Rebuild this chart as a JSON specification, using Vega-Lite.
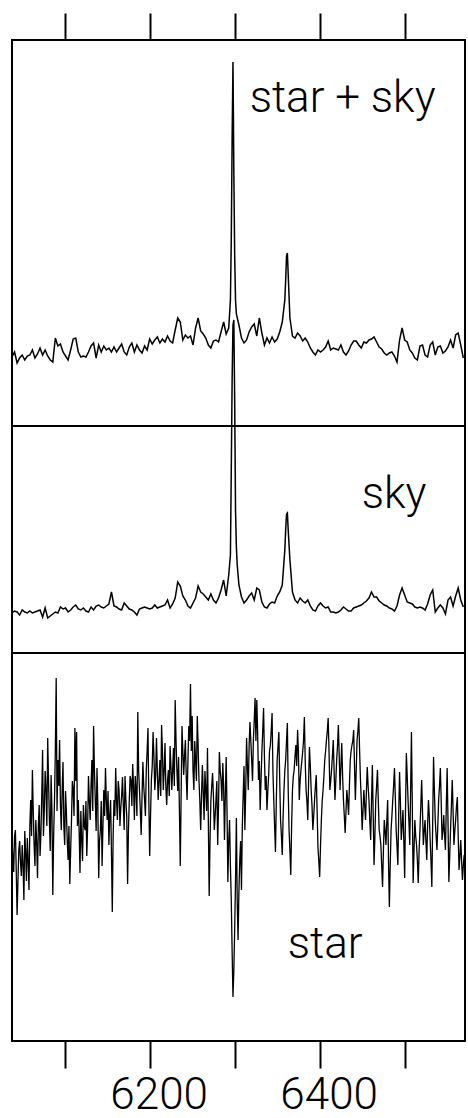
{
"$schema": "https://vega.github.io/schema/vega-lite/v6.json",
"padding": {"left": 8, "top": 11, "right": 3, "bottom": 0},
"autosize": {"type": "pad"},
"spacing": 0,
"bounds": "flush",
"background": "white",
"config": {
  "view": {"stroke": "black", "strokeWidth": 2},
  "axis": {"domain": false, "grid": false, "tickColor": "black", "tickWidth": 2, "tickSize": 27, "title": null, "labelColor": "black", "labelFont": "Roboto", "labelFontWeight": 300, "labelFontSize": 44, "labelPadding": 5, "labelFlush": false, "labelOverlap": false}
},
"resolve": {"scale": {"x": "independent", "y": "independent"}, "axis": {"x": "independent"}},
"datasets": {
"starsky": [
{"w":6038,"v":69},{"w":6041,"v":74},{"w":6044,"v":63},{"w":6047,"v":68},{"w":6050,"v":71},{"w":6053,"v":66},{"w":6056,"v":70},{"w":6059,"v":71},{"w":6062,"v":76},{"w":6065,"v":68},{"w":6068,"v":72},{"w":6071,"v":78},{"w":6074,"v":71},{"w":6077,"v":76},{"w":6080,"v":70},{"w":6083,"v":66},{"w":6086,"v":64},{"w":6089,"v":88},{"w":6092,"v":80},{"w":6095,"v":82},{"w":6098,"v":74},{"w":6101,"v":70},{"w":6104,"v":66},{"w":6107,"v":76},{"w":6110,"v":87},{"w":6113,"v":88},{"w":6116,"v":74},{"w":6119,"v":69},{"w":6122,"v":70},{"w":6125,"v":69},{"w":6128,"v":74},{"w":6131,"v":80},{"w":6134,"v":83},{"w":6137,"v":68},{"w":6140,"v":81},{"w":6143,"v":74},{"w":6146,"v":80},{"w":6149,"v":76},{"w":6152,"v":78},{"w":6155,"v":74},{"w":6158,"v":79},{"w":6161,"v":74},{"w":6164,"v":78},{"w":6167,"v":82},{"w":6170,"v":74},{"w":6173,"v":71},{"w":6176,"v":79},{"w":6179,"v":83},{"w":6182,"v":74},{"w":6185,"v":81},{"w":6188,"v":76},{"w":6191,"v":73},{"w":6194,"v":80},{"w":6197,"v":76},{"w":6200,"v":87},{"w":6203,"v":82},{"w":6206,"v":86},{"w":6209,"v":89},{"w":6212,"v":83},{"w":6215,"v":87},{"w":6218,"v":84},{"w":6221,"v":90},{"w":6224,"v":85},{"w":6227,"v":83},{"w":6230,"v":96},{"w":6233,"v":108},{"w":6236,"v":104},{"w":6239,"v":86},{"w":6242,"v":91},{"w":6245,"v":88},{"w":6248,"v":90},{"w":6251,"v":81},{"w":6254,"v":98},{"w":6257,"v":108},{"w":6260,"v":95},{"w":6263,"v":92},{"w":6266,"v":88},{"w":6269,"v":81},{"w":6272,"v":78},{"w":6275,"v":85},{"w":6278,"v":86},{"w":6281,"v":84},{"w":6284,"v":94},{"w":6287,"v":104},{"w":6290,"v":92},{"w":6293,"v":98},{"w":6295,"v":126},{"w":6296,"v":186},{"w":6297,"v":286},{"w":6298,"v":364},{"w":6299,"v":256},{"w":6300,"v":171},{"w":6301,"v":126},{"w":6302,"v":112},{"w":6305,"v":101},{"w":6308,"v":88},{"w":6311,"v":83},{"w":6314,"v":86},{"w":6317,"v":94},{"w":6320,"v":99},{"w":6323,"v":102},{"w":6326,"v":90},{"w":6329,"v":108},{"w":6332,"v":93},{"w":6335,"v":81},{"w":6338,"v":88},{"w":6341,"v":83},{"w":6344,"v":89},{"w":6347,"v":84},{"w":6350,"v":87},{"w":6353,"v":94},{"w":6356,"v":104},{"w":6359,"v":126},{"w":6360,"v":146},{"w":6361,"v":170},{"w":6362,"v":173},{"w":6363,"v":151},{"w":6365,"v":108},{"w":6368,"v":90},{"w":6371,"v":88},{"w":6374,"v":93},{"w":6377,"v":90},{"w":6380,"v":85},{"w":6383,"v":88},{"w":6386,"v":84},{"w":6389,"v":78},{"w":6392,"v":74},{"w":6395,"v":71},{"w":6398,"v":76},{"w":6401,"v":74},{"w":6404,"v":76},{"w":6407,"v":79},{"w":6410,"v":85},{"w":6413,"v":76},{"w":6416,"v":78},{"w":6419,"v":77},{"w":6422,"v":76},{"w":6425,"v":81},{"w":6428,"v":74},{"w":6431,"v":71},{"w":6434,"v":75},{"w":6437,"v":81},{"w":6440,"v":85},{"w":6443,"v":85},{"w":6446,"v":81},{"w":6449,"v":78},{"w":6452,"v":84},{"w":6455,"v":83},{"w":6458,"v":86},{"w":6461,"v":87},{"w":6464,"v":89},{"w":6467,"v":84},{"w":6470,"v":79},{"w":6473,"v":77},{"w":6476,"v":73},{"w":6479,"v":71},{"w":6482,"v":73},{"w":6485,"v":74},{"w":6488,"v":70},{"w":6491,"v":64},{"w":6494,"v":86},{"w":6497,"v":98},{"w":6500,"v":86},{"w":6503,"v":84},{"w":6506,"v":76},{"w":6509,"v":73},{"w":6512,"v":68},{"w":6515,"v":66},{"w":6518,"v":80},{"w":6521,"v":81},{"w":6524,"v":71},{"w":6527,"v":69},{"w":6530,"v":81},{"w":6533,"v":84},{"w":6536,"v":71},{"w":6539,"v":79},{"w":6542,"v":80},{"w":6545,"v":73},{"w":6548,"v":75},{"w":6551,"v":79},{"w":6554,"v":86},{"w":6557,"v":78},{"w":6560,"v":91},{"w":6563,"v":93},{"w":6566,"v":81},{"w":6569,"v":68}
],
"sky": [
{"w":6038,"v":40},{"w":6041,"v":42},{"w":6044,"v":41},{"w":6047,"v":38},{"w":6050,"v":43},{"w":6053,"v":41},{"w":6056,"v":40},{"w":6059,"v":42},{"w":6062,"v":40},{"w":6065,"v":41},{"w":6068,"v":42},{"w":6071,"v":43},{"w":6074,"v":36},{"w":6077,"v":45},{"w":6080,"v":35},{"w":6083,"v":37},{"w":6086,"v":39},{"w":6089,"v":41},{"w":6092,"v":40},{"w":6095,"v":46},{"w":6098,"v":44},{"w":6101,"v":45},{"w":6104,"v":41},{"w":6107,"v":43},{"w":6110,"v":46},{"w":6113,"v":48},{"w":6116,"v":44},{"w":6119,"v":43},{"w":6122,"v":45},{"w":6125,"v":42},{"w":6128,"v":41},{"w":6131,"v":46},{"w":6134,"v":43},{"w":6137,"v":47},{"w":6140,"v":48},{"w":6143,"v":46},{"w":6146,"v":45},{"w":6149,"v":47},{"w":6152,"v":49},{"w":6155,"v":61},{"w":6158,"v":47},{"w":6161,"v":46},{"w":6164,"v":44},{"w":6167,"v":43},{"w":6170,"v":50},{"w":6173,"v":47},{"w":6176,"v":44},{"w":6179,"v":43},{"w":6182,"v":41},{"w":6185,"v":38},{"w":6188,"v":44},{"w":6191,"v":45},{"w":6194,"v":46},{"w":6197,"v":45},{"w":6200,"v":44},{"w":6203,"v":45},{"w":6206,"v":48},{"w":6209,"v":45},{"w":6212,"v":46},{"w":6215,"v":47},{"w":6218,"v":48},{"w":6221,"v":53},{"w":6224,"v":45},{"w":6227,"v":49},{"w":6230,"v":55},{"w":6233,"v":71},{"w":6236,"v":67},{"w":6239,"v":57},{"w":6242,"v":53},{"w":6245,"v":47},{"w":6248,"v":45},{"w":6251,"v":50},{"w":6254,"v":55},{"w":6257,"v":67},{"w":6260,"v":61},{"w":6263,"v":59},{"w":6266,"v":56},{"w":6269,"v":53},{"w":6272,"v":59},{"w":6275,"v":53},{"w":6278,"v":50},{"w":6281,"v":55},{"w":6284,"v":63},{"w":6287,"v":73},{"w":6290,"v":57},{"w":6293,"v":78},{"w":6295,"v":98},{"w":6296,"v":183},{"w":6297,"v":273},{"w":6298,"v":328},{"w":6299,"v":333},{"w":6300,"v":253},{"w":6301,"v":143},{"w":6302,"v":106},{"w":6303,"v":88},{"w":6305,"v":68},{"w":6308,"v":56},{"w":6311,"v":50},{"w":6314,"v":53},{"w":6317,"v":57},{"w":6320,"v":60},{"w":6323,"v":53},{"w":6326,"v":65},{"w":6329,"v":63},{"w":6332,"v":51},{"w":6335,"v":46},{"w":6338,"v":45},{"w":6341,"v":49},{"w":6344,"v":51},{"w":6347,"v":50},{"w":6350,"v":57},{"w":6353,"v":61},{"w":6356,"v":68},{"w":6359,"v":103},{"w":6360,"v":123},{"w":6361,"v":139},{"w":6362,"v":140},{"w":6363,"v":123},{"w":6365,"v":93},{"w":6368,"v":61},{"w":6371,"v":53},{"w":6374,"v":50},{"w":6377,"v":55},{"w":6380,"v":52},{"w":6383,"v":50},{"w":6386,"v":53},{"w":6389,"v":47},{"w":6392,"v":43},{"w":6395,"v":42},{"w":6398,"v":47},{"w":6401,"v":50},{"w":6404,"v":47},{"w":6407,"v":45},{"w":6410,"v":46},{"w":6413,"v":41},{"w":6416,"v":41},{"w":6419,"v":40},{"w":6422,"v":41},{"w":6425,"v":43},{"w":6428,"v":46},{"w":6431,"v":44},{"w":6434,"v":42},{"w":6437,"v":42},{"w":6440,"v":45},{"w":6443,"v":46},{"w":6446,"v":47},{"w":6449,"v":48},{"w":6452,"v":50},{"w":6455,"v":52},{"w":6458,"v":55},{"w":6461,"v":61},{"w":6464,"v":56},{"w":6467,"v":56},{"w":6470,"v":52},{"w":6473,"v":50},{"w":6476,"v":48},{"w":6479,"v":47},{"w":6482,"v":45},{"w":6485,"v":44},{"w":6488,"v":42},{"w":6491,"v":47},{"w":6494,"v":58},{"w":6497,"v":65},{"w":6500,"v":58},{"w":6503,"v":51},{"w":6506,"v":50},{"w":6509,"v":49},{"w":6512,"v":46},{"w":6515,"v":45},{"w":6518,"v":46},{"w":6521,"v":45},{"w":6524,"v":43},{"w":6527,"v":49},{"w":6530,"v":58},{"w":6533,"v":63},{"w":6536,"v":41},{"w":6539,"v":45},{"w":6542,"v":48},{"w":6545,"v":45},{"w":6548,"v":39},{"w":6551,"v":53},{"w":6554,"v":56},{"w":6557,"v":47},{"w":6560,"v":57},{"w":6563,"v":65},{"w":6566,"v":53},{"w":6569,"v":46}
],
"star": [
{"w":6038,"v":201},{"w":6040,"v":169},{"w":6042,"v":211},{"w":6044,"v":126},{"w":6046,"v":191},{"w":6048,"v":179},{"w":6050,"v":196},{"w":6052,"v":141},{"w":6054,"v":189},{"w":6056,"v":203},{"w":6058,"v":151},{"w":6060,"v":241},{"w":6062,"v":271},{"w":6064,"v":196},{"w":6066,"v":221},{"w":6068,"v":163},{"w":6070,"v":236},{"w":6072,"v":206},{"w":6074,"v":291},{"w":6076,"v":231},{"w":6078,"v":251},{"w":6080,"v":303},{"w":6082,"v":221},{"w":6084,"v":266},{"w":6086,"v":146},{"w":6088,"v":241},{"w":6090,"v":363},{"w":6092,"v":281},{"w":6094,"v":301},{"w":6096,"v":211},{"w":6098,"v":279},{"w":6100,"v":196},{"w":6102,"v":229},{"w":6104,"v":181},{"w":6106,"v":157},{"w":6108,"v":221},{"w":6110,"v":251},{"w":6112,"v":313},{"w":6114,"v":309},{"w":6116,"v":241},{"w":6118,"v":168},{"w":6120,"v":201},{"w":6122,"v":236},{"w":6124,"v":211},{"w":6126,"v":185},{"w":6128,"v":265},{"w":6130,"v":221},{"w":6132,"v":281},{"w":6134,"v":315},{"w":6136,"v":241},{"w":6138,"v":273},{"w":6140,"v":163},{"w":6142,"v":211},{"w":6144,"v":175},{"w":6146,"v":251},{"w":6148,"v":273},{"w":6150,"v":221},{"w":6152,"v":196},{"w":6154,"v":241},{"w":6156,"v":129},{"w":6158,"v":241},{"w":6160,"v":273},{"w":6162,"v":221},{"w":6164,"v":251},{"w":6166,"v":233},{"w":6168,"v":264},{"w":6170,"v":211},{"w":6172,"v":241},{"w":6174,"v":157},{"w":6176,"v":241},{"w":6178,"v":261},{"w":6180,"v":277},{"w":6182,"v":221},{"w":6184,"v":251},{"w":6186,"v":329},{"w":6188,"v":251},{"w":6190,"v":206},{"w":6192,"v":279},{"w":6194,"v":241},{"w":6196,"v":271},{"w":6198,"v":313},{"w":6200,"v":185},{"w":6202,"v":261},{"w":6204,"v":309},{"w":6206,"v":251},{"w":6208,"v":303},{"w":6210,"v":241},{"w":6212,"v":281},{"w":6214,"v":316},{"w":6216,"v":251},{"w":6218,"v":298},{"w":6220,"v":236},{"w":6222,"v":271},{"w":6224,"v":295},{"w":6226,"v":251},{"w":6228,"v":293},{"w":6230,"v":341},{"w":6232,"v":271},{"w":6234,"v":284},{"w":6236,"v":175},{"w":6238,"v":315},{"w":6240,"v":266},{"w":6242,"v":301},{"w":6244,"v":241},{"w":6246,"v":315},{"w":6248,"v":357},{"w":6250,"v":325},{"w":6252,"v":251},{"w":6254,"v":281},{"w":6256,"v":325},{"w":6258,"v":261},{"w":6260,"v":211},{"w":6262,"v":276},{"w":6264,"v":221},{"w":6266,"v":251},{"w":6268,"v":293},{"w":6270,"v":145},{"w":6272,"v":241},{"w":6274,"v":268},{"w":6276,"v":211},{"w":6278,"v":241},{"w":6280,"v":196},{"w":6282,"v":289},{"w":6284,"v":261},{"w":6286,"v":278},{"w":6288,"v":201},{"w":6290,"v":284},{"w":6292,"v":159},{"w":6294,"v":221},{"w":6296,"v":141},{"w":6298,"v":44},{"w":6300,"v":111},{"w":6302,"v":223},{"w":6304,"v":101},{"w":6306,"v":181},{"w":6308,"v":151},{"w":6310,"v":246},{"w":6312,"v":211},{"w":6314,"v":303},{"w":6316,"v":251},{"w":6318,"v":319},{"w":6320,"v":281},{"w":6322,"v":301},{"w":6324,"v":343},{"w":6326,"v":341},{"w":6328,"v":261},{"w":6330,"v":231},{"w":6332,"v":289},{"w":6334,"v":333},{"w":6336,"v":251},{"w":6338,"v":231},{"w":6340,"v":266},{"w":6342,"v":296},{"w":6344,"v":328},{"w":6346,"v":241},{"w":6348,"v":189},{"w":6350,"v":281},{"w":6352,"v":309},{"w":6354,"v":221},{"w":6356,"v":186},{"w":6358,"v":251},{"w":6360,"v":281},{"w":6362,"v":318},{"w":6364,"v":211},{"w":6366,"v":166},{"w":6368,"v":251},{"w":6370,"v":271},{"w":6372,"v":296},{"w":6374,"v":311},{"w":6376,"v":241},{"w":6378,"v":271},{"w":6380,"v":289},{"w":6382,"v":324},{"w":6384,"v":251},{"w":6386,"v":221},{"w":6388,"v":294},{"w":6390,"v":251},{"w":6392,"v":211},{"w":6394,"v":241},{"w":6396,"v":266},{"w":6398,"v":193},{"w":6400,"v":164},{"w":6402,"v":221},{"w":6404,"v":251},{"w":6406,"v":281},{"w":6408,"v":301},{"w":6410,"v":323},{"w":6412,"v":251},{"w":6414,"v":271},{"w":6416,"v":301},{"w":6418,"v":241},{"w":6420,"v":281},{"w":6422,"v":316},{"w":6424,"v":251},{"w":6426,"v":298},{"w":6428,"v":241},{"w":6430,"v":208},{"w":6432,"v":251},{"w":6434,"v":226},{"w":6436,"v":281},{"w":6438,"v":296},{"w":6440,"v":311},{"w":6442,"v":241},{"w":6444,"v":301},{"w":6446,"v":323},{"w":6448,"v":261},{"w":6450,"v":211},{"w":6452,"v":251},{"w":6454,"v":221},{"w":6456,"v":274},{"w":6458,"v":241},{"w":6460,"v":201},{"w":6462,"v":276},{"w":6464,"v":176},{"w":6466,"v":241},{"w":6468,"v":271},{"w":6470,"v":211},{"w":6472,"v":196},{"w":6474,"v":154},{"w":6476,"v":221},{"w":6478,"v":196},{"w":6480,"v":241},{"w":6482,"v":134},{"w":6484,"v":211},{"w":6486,"v":241},{"w":6488,"v":273},{"w":6490,"v":211},{"w":6492,"v":176},{"w":6494,"v":269},{"w":6496,"v":201},{"w":6498,"v":231},{"w":6500,"v":163},{"w":6502,"v":288},{"w":6504,"v":241},{"w":6506,"v":196},{"w":6508,"v":309},{"w":6510,"v":158},{"w":6512,"v":221},{"w":6514,"v":196},{"w":6516,"v":158},{"w":6518,"v":211},{"w":6520,"v":261},{"w":6522,"v":196},{"w":6524,"v":221},{"w":6526,"v":181},{"w":6528,"v":241},{"w":6530,"v":201},{"w":6532,"v":154},{"w":6534,"v":284},{"w":6536,"v":221},{"w":6538,"v":191},{"w":6540,"v":241},{"w":6542,"v":273},{"w":6544,"v":201},{"w":6546,"v":226},{"w":6548,"v":191},{"w":6550,"v":273},{"w":6552,"v":159},{"w":6554,"v":211},{"w":6556,"v":261},{"w":6558,"v":196},{"w":6560,"v":221},{"w":6562,"v":244},{"w":6564,"v":171},{"w":6566,"v":201},{"w":6568,"v":161},{"w":6570,"v":186},
{"w":6039,"v":185},{"w":6041,"v":205},{"w":6043,"v":170},{"w":6045,"v":160},{"w":6047,"v":200},{"w":6049,"v":165},{"w":6051,"v":175},{"w":6053,"v":210},{"w":6055,"v":160},{"w":6057,"v":180},{"w":6059,"v":215},{"w":6061,"v":205},{"w":6063,"v":230},{"w":6065,"v":175},{"w":6067,"v":200},{"w":6069,"v":215},{"w":6071,"v":185},{"w":6073,"v":245},{"w":6075,"v":205},{"w":6077,"v":270},{"w":6079,"v":215},{"w":6081,"v":260},{"w":6083,"v":190},{"w":6085,"v":230},{"w":6087,"v":205},{"w":6089,"v":290},{"w":6091,"v":230},{"w":6093,"v":255},{"w":6095,"v":235},{"w":6097,"v":250},{"w":6099,"v":215},{"w":6101,"v":250},{"w":6103,"v":200},{"w":6105,"v":215},{"w":6107,"v":190},{"w":6109,"v":260},{"w":6111,"v":225},{"w":6113,"v":260},{"w":6115,"v":215},{"w":6117,"v":210},{"w":6119,"v":230},{"w":6121,"v":180},{"w":6123,"v":215},{"w":6125,"v":240},{"w":6127,"v":215},{"w":6129,"v":240},{"w":6131,"v":255},{"w":6133,"v":230},{"w":6135,"v":270},{"w":6137,"v":210},{"w":6139,"v":235},{"w":6141,"v":200},{"w":6143,"v":240},{"w":6145,"v":215},{"w":6147,"v":225},{"w":6149,"v":240},{"w":6151,"v":250},{"w":6153,"v":225},{"w":6155,"v":190},{"w":6157,"v":205},{"w":6159,"v":225},{"w":6161,"v":240},{"w":6163,"v":260},{"w":6165,"v":215},{"w":6167,"v":245},{"w":6169,"v":235},{"w":6171,"v":265},{"w":6173,"v":225},{"w":6175,"v":210},{"w":6177,"v":265},{"w":6179,"v":235},{"w":6181,"v":255},{"w":6183,"v":265},{"w":6185,"v":225},{"w":6187,"v":270},{"w":6189,"v":230},{"w":6191,"v":245},{"w":6193,"v":255},{"w":6195,"v":225},{"w":6197,"v":290},{"w":6199,"v":240},{"w":6201,"v":225},{"w":6203,"v":275},{"w":6205,"v":285},{"w":6207,"v":265},{"w":6209,"v":270},{"w":6211,"v":260},{"w":6213,"v":245},{"w":6215,"v":290},{"w":6217,"v":270},{"w":6219,"v":255},{"w":6221,"v":260},{"w":6223,"v":245},{"w":6225,"v":275},{"w":6227,"v":270},{"w":6229,"v":255},{"w":6231,"v":300},{"w":6233,"v":250},{"w":6235,"v":230},{"w":6237,"v":245},{"w":6239,"v":290},{"w":6241,"v":285},{"w":6243,"v":265},{"w":6245,"v":280},{"w":6247,"v":300},{"w":6249,"v":290},{"w":6251,"v":270},{"w":6253,"v":300},{"w":6255,"v":260},{"w":6257,"v":295},{"w":6259,"v":240},{"w":6261,"v":245},{"w":6263,"v":250},{"w":6265,"v":270},{"w":6267,"v":230},{"w":6269,"v":220},{"w":6271,"v":200},{"w":6273,"v":255},{"w":6275,"v":245},{"w":6277,"v":225},{"w":6279,"v":260},{"w":6281,"v":235},{"w":6283,"v":270},{"w":6285,"v":240},{"w":6287,"v":255},{"w":6289,"v":245},{"w":6291,"v":230},{"w":6293,"v":200},{"w":6295,"v":175},{"w":6297,"v":90},{"w":6299,"v":70},{"w":6301,"v":160},{"w":6303,"v":140},{"w":6305,"v":150},{"w":6307,"v":200},{"w":6309,"v":215},{"w":6311,"v":275},{"w":6313,"v":250},{"w":6315,"v":275},{"w":6317,"v":295},{"w":6319,"v":300},{"w":6321,"v":260},{"w":6323,"v":320},{"w":6325,"v":300},{"w":6327,"v":310},{"w":6329,"v":280},{"w":6331,"v":260},{"w":6333,"v":310},{"w":6335,"v":285},{"w":6337,"v":265},{"w":6339,"v":250},{"w":6341,"v":290},{"w":6343,"v":310},{"w":6345,"v":270},{"w":6347,"v":215},{"w":6349,"v":240},{"w":6351,"v":295},{"w":6353,"v":260},{"w":6355,"v":205},{"w":6357,"v":225},{"w":6359,"v":270},{"w":6361,"v":300},{"w":6363,"v":250},{"w":6365,"v":190},{"w":6367,"v":215},{"w":6369,"v":265},{"w":6371,"v":285},{"w":6373,"v":275},{"w":6375,"v":290},{"w":6377,"v":260},{"w":6379,"v":280},{"w":6381,"v":300},{"w":6383,"v":280},{"w":6385,"v":240},{"w":6387,"v":260},{"w":6389,"v":275},{"w":6391,"v":235},{"w":6393,"v":225},{"w":6395,"v":255},{"w":6397,"v":230},{"w":6399,"v":180},{"w":6401,"v":195},{"w":6403,"v":240},{"w":6405,"v":265},{"w":6407,"v":290},{"w":6409,"v":310},{"w":6411,"v":290},{"w":6413,"v":260},{"w":6415,"v":285},{"w":6417,"v":270},{"w":6419,"v":260},{"w":6421,"v":295},{"w":6423,"v":285},{"w":6425,"v":275},{"w":6427,"v":265},{"w":6429,"v":225},{"w":6431,"v":230},{"w":6433,"v":240},{"w":6435,"v":255},{"w":6437,"v":290},{"w":6439,"v":300},{"w":6441,"v":275},{"w":6443,"v":270},{"w":6445,"v":310},{"w":6447,"v":290},{"w":6449,"v":240},{"w":6451,"v":230},{"w":6453,"v":235},{"w":6455,"v":250},{"w":6457,"v":255},{"w":6459,"v":220},{"w":6461,"v":240},{"w":6463,"v":225},{"w":6465,"v":205},{"w":6467,"v":255},{"w":6469,"v":240},{"w":6471,"v":205},{"w":6473,"v":175},{"w":6475,"v":190},{"w":6477,"v":210},{"w":6479,"v":220},{"w":6481,"v":180},{"w":6483,"v":175},{"w":6485,"v":225},{"w":6487,"v":255},{"w":6489,"v":245},{"w":6491,"v":195},{"w":6493,"v":225},{"w":6495,"v":240},{"w":6497,"v":215},{"w":6499,"v":200},{"w":6501,"v":230},{"w":6503,"v":265},{"w":6505,"v":220},{"w":6507,"v":250},{"w":6509,"v":235},{"w":6511,"v":190},{"w":6513,"v":205},{"w":6515,"v":180},{"w":6517,"v":190},{"w":6519,"v":235},{"w":6521,"v":230},{"w":6523,"v":210},{"w":6525,"v":200},{"w":6527,"v":215},{"w":6529,"v":225},{"w":6531,"v":180},{"w":6533,"v":220},{"w":6535,"v":250},{"w":6537,"v":205},{"w":6539,"v":215},{"w":6541,"v":255},{"w":6543,"v":240},{"w":6545,"v":210},{"w":6547,"v":205},{"w":6549,"v":235},{"w":6551,"v":220},{"w":6553,"v":185},{"w":6555,"v":235},{"w":6557,"v":230},{"w":6559,"v":210},{"w":6561,"v":235},{"w":6563,"v":205},{"w":6565,"v":185},{"w":6567,"v":180},{"w":6569,"v":175}
]
},
"vconcat": [
{
  "width": 453, "height": 386,
  "encoding": {
    "x": {"field": "w", "type": "quantitative", "scale": {"domain": [6038, 6571], "nice": false, "zero": false},
          "axis": {"orient": "top", "values": [6100, 6200, 6300, 6400, 6500], "labels": false}}
  },
  "layer": [
    {"data": {"name": "starsky"},
     "mark": {"type": "line", "color": "black", "strokeWidth": 1.5},
     "encoding": {
       "y": {"field": "v", "type": "quantitative", "scale": {"domain": [0, 386], "nice": false, "zero": false}, "axis": null}
     }},
    {"data": {"values": [{"w": 6317.6, "v": 314, "label": "star + sky"}]},
     "mark": {"type": "text", "align": "left", "baseline": "alphabetic", "font": "Roboto", "fontWeight": 300, "fontSize": 44, "color": "black"},
     "encoding": {
       "y": {"field": "v", "type": "quantitative", "axis": null},
       "text": {"field": "label"}
     }}
  ]
},
{
  "width": 453, "height": 227,
  "encoding": {
    "x": {"field": "w", "type": "quantitative", "scale": {"domain": [6038, 6571], "nice": false, "zero": false}, "axis": null}
  },
  "layer": [
    {"data": {"name": "sky"},
     "mark": {"type": "line", "color": "black", "strokeWidth": 1.5},
     "encoding": {
       "y": {"field": "v", "type": "quantitative", "scale": {"domain": [0, 227], "nice": false, "zero": false}, "axis": null}
     }},
    {"data": {"values": [{"w": 6449.4, "v": 145, "label": "sky"}]},
     "mark": {"type": "text", "align": "left", "baseline": "alphabetic", "font": "Roboto", "fontWeight": 300, "fontSize": 44, "color": "black"},
     "encoding": {
       "y": {"field": "v", "type": "quantitative", "axis": null},
       "text": {"field": "label"}
     }}
  ]
},
{
  "width": 453, "height": 388,
  "encoding": {
    "x": {"field": "w", "type": "quantitative", "scale": {"domain": [6038, 6571], "nice": false, "zero": false},
          "axis": {"orient": "bottom", "values": [6100, 6200, 6300, 6400, 6500], "format": "d", "labelOffset": 9, "labelExpr": "datum.value == 6200 || datum.value == 6400 ? datum.label : ''"}}
  },
  "layer": [
    {"data": {"name": "star"},
     "mark": {"type": "line", "color": "black", "strokeWidth": 1.3},
     "encoding": {
       "y": {"field": "v", "type": "quantitative", "scale": {"domain": [0, 388], "nice": false, "zero": false}, "axis": null}
     }},
    {"data": {"values": [{"w": 6362.4, "v": 83, "label": "star"}]},
     "mark": {"type": "text", "align": "left", "baseline": "alphabetic", "font": "Roboto", "fontWeight": 300, "fontSize": 44, "color": "black"},
     "encoding": {
       "y": {"field": "v", "type": "quantitative", "axis": null},
       "text": {"field": "label"}
     }}
  ]
}
]
}
